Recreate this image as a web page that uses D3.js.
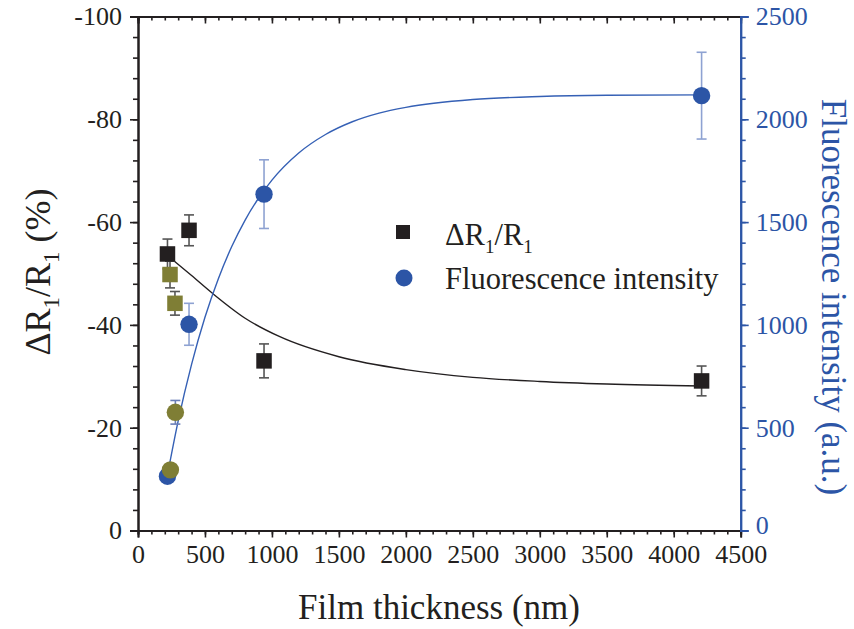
<!DOCTYPE html>
<html><head><meta charset="utf-8">
<script src="https://cdn.jsdelivr.net/npm/d3@7"></script>
<style>body{margin:0;background:#fff}svg{display:block}text{font-family:"Liberation Serif","Times New Roman",serif !important}</style>
</head><body><svg id="c" width="854" height="629"></svg>
<script>
// ---- data ----
const xTicks = [0,500,1000,1500,2000,2500,3000,3500,4000,4500];
const leftTicks = [0,-20,-40,-60,-80,-100];
const rightTicks = [0,500,1000,1500,2000,2500];
// ΔR1/R1 (%) – black squares
const sqX = [220, 381, 941, 4208];
const sqY = [-53.8, -58.4, -33.0, -29.1];
const sqErr = [2.9, 3.0, 3.3, 2.9];
// olive squares
const oSqX = [239, 276];
const oSqY = [-49.8, -44.2];
const oSqErr = [2.6, 2.3];
// olive circles (left axis)
const oCiX = [242, 279];
const oCiY = [-11.8, -23.0];
const oCiErr = [0.8, 2.3];
// Fluorescence intensity – blue circles (right axis)
const ciX = [220, 381, 941, 4208];
const ciY = [264, 1003, 1636, 2115];
const ciErr = [20, 102, 167, 211];
// fitted curves
const fitRX = [220, 400, 558, 800, 1059, 1500, 2000, 2500, 3000, 3500, 4210];
const fitRY = [-53.5, -49.6, -46.1, -41.3, -37.7, -33.8, -31.3, -29.8, -29.0, -28.5, -28.1];
const fitFX = [220, 300, 400, 500, 600, 700, 800, 900, 1000, 1200, 1400, 1600, 1800, 2000, 2500, 3000, 3500, 4210];
const fitFY = [270, 533, 808, 1037, 1225, 1381, 1510, 1616, 1704, 1836, 1926, 1988, 2030, 2058, 2096, 2111, 2117, 2119];

// ---- setup ----
const svg = d3.select("#c");
const L = 138, R = 740.7, T = 16.5, B = 530.5;
const x = d3.scaleLinear().domain([0,4500]).range([L,R]);
const yL = d3.scaleLinear().domain([0,-100]).range([B,T]);
const yR = d3.scaleLinear().domain([0,2500]).range([B,T]);
const BLUE = "#2c55a6", BLUEL = "#8ea2d2", OLIVE = "#7f7e35", BLK = "#231f20";
const FS = 26;
const SERIF = '"Liberation Serif", "Times New Roman", serif';

const minor = (lo, hi, step) => d3.range(lo, hi + step/2, step);

function styleAxis(g, color, fs) {
  g.attr("font-family", SERIF);
  g.select(".domain").attr("stroke", color).attr("stroke-width", 2);
  g.selectAll(".tick line").attr("stroke", color).attr("stroke-width", 1.6);
  g.selectAll(".tick text").attr("fill", color).attr("font-size", fs).style("font-family", SERIF);
}

// bottom axis
svg.append("g").attr("transform", `translate(0,${B})`)
  .call(d3.axisBottom(x).tickValues(minor(0,4500,100)).tickSize(4).tickFormat(""))
  .call(g => styleAxis(g, BLK, FS));
svg.append("g").attr("transform", `translate(0,${B})`)
  .call(d3.axisBottom(x).tickValues(xTicks).tickSize(7).tickPadding(7).tickFormat(d => String(d)))
  .call(g => styleAxis(g, BLK, FS));
// top axis (inward ticks)
svg.append("g").attr("transform", `translate(0,${T})`)
  .call(d3.axisBottom(x).tickValues(minor(0,4500,100)).tickSize(4).tickFormat(""))
  .call(g => styleAxis(g, BLK, FS));
svg.append("g").attr("transform", `translate(0,${T})`)
  .call(d3.axisBottom(x).tickValues(xTicks).tickSize(7).tickFormat(""))
  .call(g => styleAxis(g, BLK, FS));
// left axis
svg.append("g").attr("transform", `translate(${L},0)`)
  .call(d3.axisLeft(yL).tickValues(minor(-100,0,4)).tickSize(5).tickFormat(""))
  .call(g => styleAxis(g, BLK, FS));
svg.append("g").attr("transform", `translate(${L},0)`)
  .call(d3.axisLeft(yL).tickValues(leftTicks).tickSize(8).tickPadding(8).tickFormat(d => String(d)))
  .call(g => styleAxis(g, BLK, FS));
// right axis
svg.append("g").attr("transform", `translate(${R},0)`)
  .call(d3.axisRight(yR).tickValues(minor(0,2500,100)).tickSize(5).tickFormat(""))
  .call(g => styleAxis(g, BLUE, FS));
svg.append("g").attr("transform", `translate(${R},0)`)
  .call(d3.axisRight(yR).tickValues(rightTicks).tickSize(8).tickPadding(7).tickFormat(d => String(d)))
  .call(g => styleAxis(g, BLUE, FS))
  .call(g => g.selectAll(".tick text").filter(d => d === 0).attr("dy", "0.1em"));

// curves
const lineR = d3.line().curve(d3.curveMonotoneX).x((d,i) => x(fitRX[i])).y(d => yL(d));
svg.append("path").attr("d", lineR(fitRY)).attr("fill","none").attr("stroke", BLK).attr("stroke-width", 1.4);
const lineF = d3.line().curve(d3.curveMonotoneX).x((d,i) => x(fitFX[i])).y(d => yR(d));
svg.append("path").attr("d", lineF(fitFY)).attr("fill","none").attr("stroke", "#3560b5").attr("stroke-width", 1.4);

// error bars
function errBars(xs, ys, es, ysc, color) {
  const g = svg.append("g").attr("stroke", color).attr("stroke-width", 1.6);
  xs.forEach((xv, i) => {
    const cx = x(xv), y1 = ysc(ys[i] - es[i]), y2 = ysc(ys[i] + es[i]);
    g.append("line").attr("x1", cx).attr("x2", cx).attr("y1", y1).attr("y2", y2);
    g.append("line").attr("x1", cx-5).attr("x2", cx+5).attr("y1", y1).attr("y2", y1);
    g.append("line").attr("x1", cx-5).attr("x2", cx+5).attr("y1", y2).attr("y2", y2);
  });
}
errBars(ciX, ciY, ciErr, yR, BLUEL);
errBars(sqX, sqY, sqErr, yL, "#555");
errBars(oSqX, oSqY, oSqErr, yL, "#555");
errBars(oCiX, oCiY, oCiErr, yL, "#6b7fb8");

const S = 15.5, RC = 8.7;
svg.append("g").selectAll("circle").data(ciY).join("circle")
  .attr("cx", (d,i) => x(ciX[i])).attr("cy", d => yR(d)).attr("r", RC).attr("fill", BLUE);
svg.append("g").selectAll("circle").data(oCiY).join("circle")
  .attr("cx", (d,i) => x(oCiX[i])).attr("cy", d => yL(d)).attr("r", RC).attr("fill", OLIVE);
svg.append("g").selectAll("rect").data(oSqY).join("rect")
  .attr("x", (d,i) => x(oSqX[i]) - S/2).attr("y", d => yL(d) - S/2).attr("width", S).attr("height", S).attr("fill", OLIVE);
svg.append("g").selectAll("rect").data(sqY).join("rect")
  .attr("x", (d,i) => x(sqX[i]) - S/2).attr("y", d => yL(d) - S/2).attr("width", S).attr("height", S).attr("fill", BLK);

// legend
svg.append("rect").attr("x", 396).attr("y", 225).attr("width", 14).attr("height", 14).attr("fill", BLK);
svg.append("circle").attr("cx", 404).attr("cy", 278).attr("r", 8.5).attr("fill", BLUE);
const lt = svg.append("text").attr("x", 445).attr("y", 245).attr("font-size", 30.5).attr("fill", BLK);
lt.append("tspan").text("ΔR");
lt.append("tspan").attr("dy", 8).attr("font-size", 19).text("1");
lt.append("tspan").attr("dy", -8).text("/R");
lt.append("tspan").attr("dy", 8).attr("font-size", 19).text("1");
svg.append("text").attr("x", 445).attr("y", 289).attr("font-size", 30.5).attr("fill", BLK).text("Fluorescence intensity");

// axis titles
svg.append("text").attr("x", 439).attr("y", 619).attr("text-anchor","middle")
  .attr("font-size", 35).attr("fill", BLK).text("Film thickness (nm)");
const yt = svg.append("text").attr("transform", "translate(50,272) rotate(-90)").attr("text-anchor","middle")
  .attr("font-size", 36).attr("fill", BLK);
yt.append("tspan").text("ΔR");
yt.append("tspan").attr("dy", 9).attr("font-size", 23).text("1");
yt.append("tspan").attr("dy", -9).text("/R");
yt.append("tspan").attr("dy", 9).attr("font-size", 23).text("1");
yt.append("tspan").attr("dy", -9).text(" (%)");
svg.append("text").attr("transform", "translate(822,297) rotate(90)").attr("text-anchor","middle")
  .attr("font-size", 35).attr("fill", BLUE).text("Fluorescence intensity (a.u.)");
</script></body></html>
